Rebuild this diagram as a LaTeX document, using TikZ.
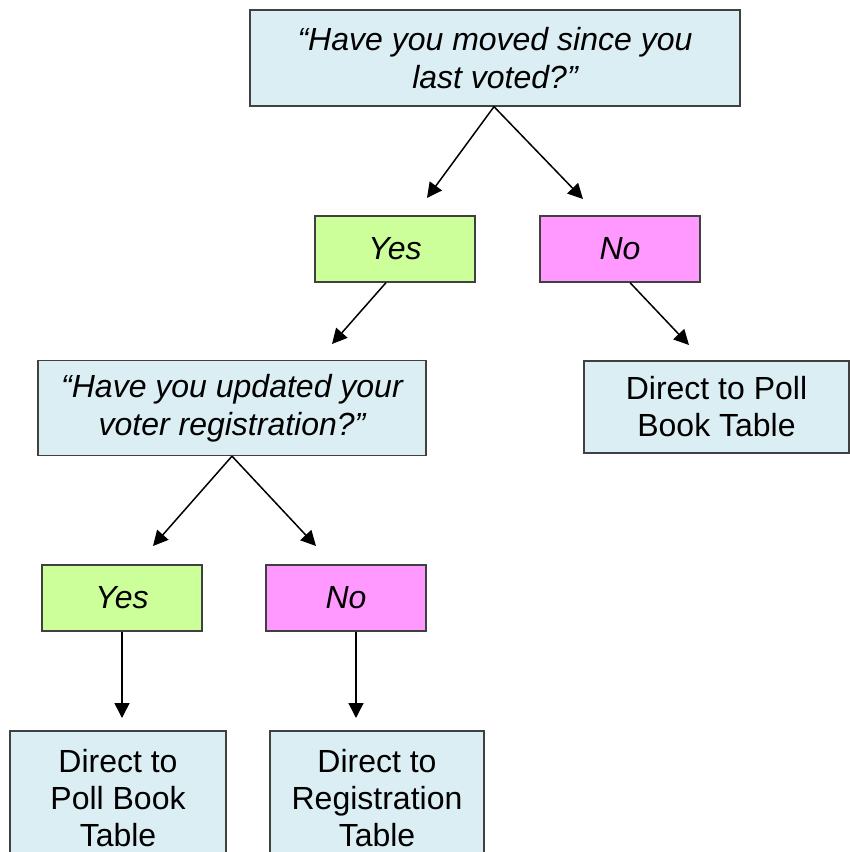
\documentclass[tikz,border=0pt]{standalone}
\usepackage{fontspec}
\setmainfont{Liberation Sans}
\usetikzlibrary{arrows.meta}
\definecolor{boxblue}{RGB}{219,238,243}
\definecolor{yesgreen}{RGB}{204,255,153}
\definecolor{nopink}{RGB}{255,153,255}
\tikzset{
  box/.style={draw=black!75, line width=1.3pt, inner sep=0pt, align=center,
    font=\fontsize{32}{37}\selectfont},
  qbox/.style={box, fill=boxblue, font=\fontsize{32}{37.5}\selectfont\itshape},
  yesbox/.style={box, fill=yesgreen, minimum width=160pt, minimum height=66pt,
    font=\fontsize{32}{37}\selectfont\itshape},
  nobox/.style={box, fill=nopink, minimum width=160pt, minimum height=66pt,
    font=\fontsize{32}{37}\selectfont\itshape},
  endbox/.style={box, fill=boxblue},
  flow/.style={line width=1.5pt, -{Triangle[length=15pt, width=15pt]}}
}
\begin{document}
\begin{tikzpicture}[x=1pt, y=-1pt]
    \useasboundingbox (0,0) rectangle (850,852);
    \clip (0,0) rectangle (850,852);

    \node[qbox, minimum width=490pt, minimum height=96pt] (moved) at (495, 58)
      {``Have you moved since you\\last voted?''};
    \node[yesbox] (yes1) at (395, 249) {Yes};
    \node[nobox] (no1) at (620, 249) {No};
    \node[qbox, minimum width=388pt, minimum height=95pt] (updated) at (232, 408)
      {``Have you updated your\\voter registration?''};
    \node[endbox, minimum width=265pt, minimum height=92pt] (poll1) at (716.5, 407)
      {Direct to Poll\\Book Table};
    \node[yesbox] (yes2) at (122, 598) {Yes};
    \node[nobox] (no2) at (346, 598) {No};
    \node[endbox, minimum width=216pt, minimum height=134pt] (poll2) at (118, 798)
      {Direct to\\Poll Book\\Table};
    \node[endbox, minimum width=214pt, minimum height=134pt] (reg) at (377, 798)
      {Direct to\\Registration\\Table};

    % free ends of the arrows
    \coordinate (toyes1) at (427, 198);
    \coordinate (tono1) at (583, 199);
    \coordinate (toupdated) at (332, 344);
    \coordinate (topoll1) at (689, 345);
    \coordinate (toyes2) at (153, 546);
    \coordinate (tono2) at (316, 546);
    \coordinate (topoll2) at (122, 718);
    \coordinate (toreg) at (356, 718);

    \draw[flow] ([xshift=-1pt]moved.south) -- (toyes1);
    \draw[flow] ([xshift=-1pt]moved.south) -- (tono1);
    \draw[flow] ([xshift=-9pt]yes1.south) -- (toupdated);
    \draw[flow] ([xshift=10pt]no1.south) -- (topoll1);
    \draw[flow] (updated.south) -- (toyes2);
    \draw[flow] (updated.south) -- (tono2);
    \draw[flow] (yes2.south) -- (topoll2);
    \draw[flow] ([xshift=10pt]no2.south) -- (toreg);
\end{tikzpicture}
\end{document}
